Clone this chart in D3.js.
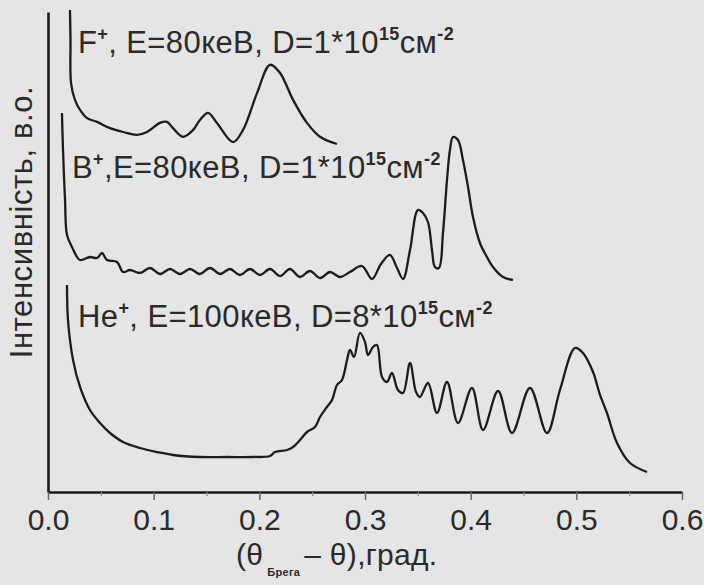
<!DOCTYPE html>
<html>
<head>
<meta charset="utf-8">
<script src="https://cdn.jsdelivr.net/npm/d3@7/dist/d3.min.js"></script>
<style>
  html, body { margin: 0; padding: 0; background: #e5e5e5; }
  svg { display: block; }
  text { font-family: "Liberation Sans", Arial, sans-serif; fill: #2a2a2a; }
</style>
</head>
<body>
<svg id="chart" width="704" height="585"></svg>
<script>
// ---- data (angle in degrees, intensity in arbitrary units incl. vertical offset) ----
const fX = [0.0208,0.0213,0.0218,0.0255,0.0303,0.0369,0.0464,0.0587,0.0710,0.0842,0.0937,0.1060,0.1126,0.1183,0.1277,0.1372,0.1438,0.1514,0.1599,0.1751,0.1845,0.1978,0.2101,0.2196,0.2319,0.2451,0.2574,0.2735];
const fY = [100.4,94.2,85.2,81.7,79.6,77.9,77.1,75.8,75.0,74.4,75.0,76.9,77.1,75.8,74.0,75.4,77.5,79.0,76.9,72.9,75.4,83.1,89.0,87.3,81.7,76.9,74.0,72.5];

const bX = [0.0132,0.0142,0.0161,0.0180,0.0227,0.0303,0.0397,0.0464,0.0511,0.0558,0.0653,0.0710,0.0776,0.0871,0.0965,0.1060,0.1155,0.1249,0.1344,0.1438,0.1533,0.1628,0.1722,0.1817,0.1912,0.2006,0.2101,0.2196,0.2290,0.2385,0.2479,0.2574,0.2669,0.2763,0.2858,0.2972,0.3066,0.3151,0.3236,0.3303,0.3360,0.3426,0.3501,0.3549,0.3596,0.3634,0.3662,0.3700,0.3738,0.3776,0.3804,0.3833,0.3880,0.3927,0.3975,0.4022,0.4088,0.4154,0.4211,0.4306,0.4401];
const bY = [78.96,71.25,60.83,53.54,51.04,48.33,48.96,48.75,49.79,48.33,47.92,45.83,46.25,45.63,46.67,45.42,46.46,45.42,46.46,45.42,46.67,45.42,46.46,45.21,46.46,45.21,46.46,45.0,46.46,44.79,46.04,44.58,45.83,44.79,45.83,47.08,44.38,47.5,49.38,46.67,44.38,50.42,58.75,58.13,56.25,50.42,46.88,46.67,53.96,65.0,71.25,73.96,73.33,69.17,63.54,57.29,51.88,48.96,46.88,44.79,44.17];

const heX = [0.0180,0.0189,0.0237,0.0303,0.0397,0.0492,0.0587,0.0710,0.0871,0.1032,0.1183,0.1438,0.1694,0.1940,0.2101,0.2148,0.2262,0.2319,0.2385,0.2451,0.2527,0.2574,0.2640,0.2688,0.2735,0.2782,0.2830,0.2858,0.2896,0.2952,0.3000,0.3028,0.3076,0.3113,0.3161,0.3208,0.3255,0.3312,0.3360,0.3426,0.3483,0.3520,0.3596,0.3681,0.3776,0.3880,0.4012,0.4117,0.4259,0.4391,0.4561,0.4722,0.4845,0.4987,0.5063,0.5158,0.5224,0.5290,0.5385,0.5508,0.5669];
const heY = [43.13,35.83,27.5,21.88,17.08,14.38,12.29,10.42,9.17,8.33,7.71,7.29,7.29,7.29,7.5,8.33,8.75,9.38,10.83,12.5,13.54,15.63,17.71,19.17,22.29,23.33,27.5,29.58,28.13,33.13,31.25,28.54,30.21,30.63,23.96,22.92,24.79,21.25,20.63,26.88,20.83,19.79,22.71,16.46,22.92,14.38,21.67,12.92,21.04,12.29,21.67,12.29,21.25,30.0,28.96,25.0,20.21,16.46,10.21,6.04,4.17];

const xTickValues = [0, 0.1, 0.2, 0.3, 0.4, 0.5, 0.6];
const xTickLabels = ["0.0", "0.1", "0.2", "0.3", "0.4", "0.5", "0.6"];
const xMinorTicks = [0.05, 0.15, 0.25, 0.35, 0.45, 0.55];

const curveLabels = [
  { ion: "F", sup: "+", sep: ", ", e: "E=80кеВ, D=1*10", exp: "15", unit: "см", unitExp: "-2", x: 0.0284, y: 91.4 },
  { ion: "B", sup: "+", sep: ",",  e: "E=80кеВ, D=1*10", exp: "15", unit: "см", unitExp: "-2", x: 0.0227, y: 65.4 },
  { ion: "He", sup: "+", sep: ", ", e: "E=100кеВ, D=8*10", exp: "15", unit: "см", unitExp: "-2", x: 0.0284, y: 34.4 }
];
const yTitle = "Інтенсивність, в.о.";

// ---- chart ----
const svg = d3.select("#chart");
const margin = { left: 48, right: 22, top: 12, bottom: 93 };
const W = 704, H = 585;

const x = d3.scaleLinear().domain([0, 0.6]).range([margin.left, W - margin.right]);
const y = d3.scaleLinear().domain([0, 100]).range([H - margin.bottom, margin.top]);

// curves
const line = d3.line().x(d => x(d[0])).y(d => y(d[1])).curve(d3.curveCatmullRom.alpha(0.5));
[[fX, fY], [bX, bY], [heX, heY]].forEach(([xs, ys]) => {
  svg.append("path")
    .datum(xs.map((v, i) => [v, ys[i]]))
    .attr("d", line)
    .attr("fill", "none")
    .attr("stroke", "#1c1c1c")
    .attr("stroke-width", 2.3)
    .attr("stroke-linejoin", "round");
});

// y axis (line only)
const yAxis = svg.append("g")
  .attr("transform", `translate(${margin.left},0)`)
  .call(d3.axisLeft(y).tickValues([]).tickSizeOuter(0));
yAxis.select(".domain").attr("stroke", "#1a1a1a").attr("stroke-width", 2.6);

// x axis
const xAxis = svg.append("g")
  .attr("transform", `translate(0,${y(0)})`)
  .call(d3.axisBottom(x).tickValues(xTickValues)
    .tickFormat((d, i) => xTickLabels[i]).tickSize(8).tickSizeOuter(0).tickPadding(9));
xAxis.select(".domain").attr("stroke", "#1a1a1a").attr("stroke-width", 2.6);
xAxis.selectAll(".tick line").attr("stroke", "#666").attr("stroke-width", 1.5);
xAxis.selectAll(".tick text")
  .style("font-family", "'Liberation Sans', Arial, sans-serif")
  .attr("font-size", 30).attr("fill", "#2a2a2a");

const xMinor = svg.append("g")
  .attr("transform", `translate(0,${y(0)})`)
  .call(d3.axisBottom(x).tickValues(xMinorTicks).tickFormat("").tickSize(4).tickSizeOuter(0));
xMinor.select(".domain").remove();
xMinor.selectAll(".tick line").attr("stroke", "#888").attr("stroke-width", 1.2);

// curve labels
curveLabels.forEach(l => {
  const t = svg.append("text")
    .attr("x", x(l.x)).attr("y", y(l.y))
    .attr("font-size", 31)
    .attr("letter-spacing", 0.4);
  t.append("tspan").text(l.ion);
  t.append("tspan").attr("font-size", 18).attr("font-weight", "bold").attr("dy", -13).text(l.sup);
  t.append("tspan").attr("dy", 13).text(l.sep + l.e);
  t.append("tspan").attr("font-size", 18).attr("font-weight", "bold").attr("dy", -13).text(l.exp);
  t.append("tspan").attr("dy", 13).text(l.unit);
  t.append("tspan").attr("font-size", 18).attr("font-weight", "bold").attr("dy", -13).text(l.unitExp);
});

// y title
svg.append("text")
  .attr("transform", `translate(32,222) rotate(-90)`)
  .attr("text-anchor", "middle")
  .attr("font-size", 31)
  .attr("letter-spacing", 0.6)
  .text(yTitle);

// x title
const xt = svg.append("text")
  .attr("x", 236).attr("y", 565)
  .attr("font-size", 30)
  .attr("letter-spacing", 0.3);
xt.append("tspan").text("(θ");
xt.append("tspan").attr("font-size", 11).attr("font-weight", "bold").attr("dy", 11).attr("dx", 4).text("Брега");
xt.append("tspan").attr("dy", -11).attr("dx", 4).text("– θ),град.");
</script>
</body>
</html>
